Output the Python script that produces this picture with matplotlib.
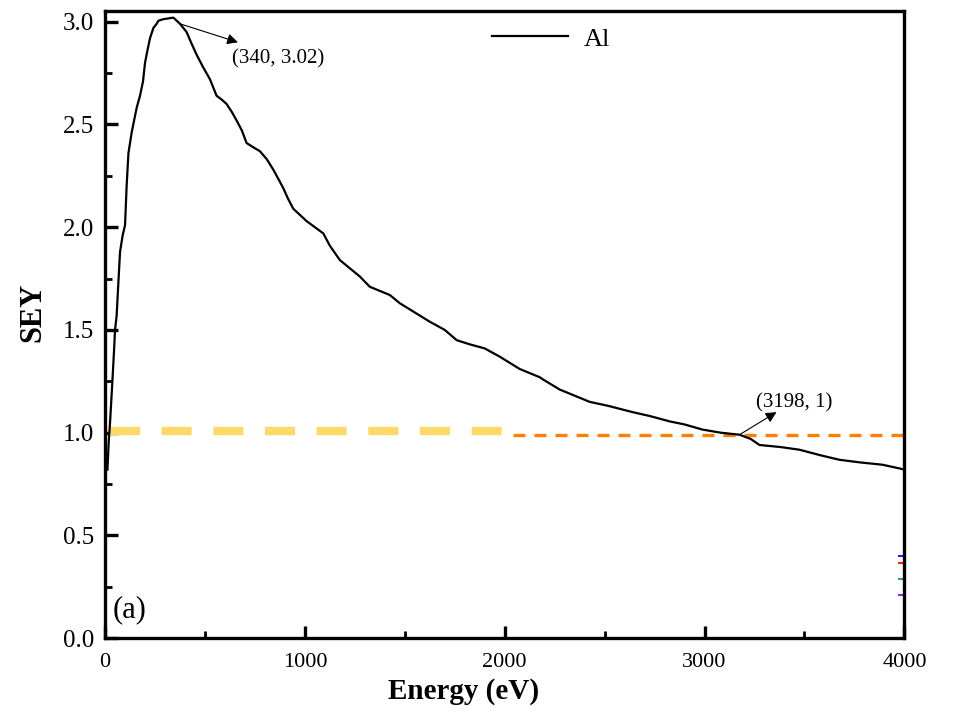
import numpy as np
import matplotlib
matplotlib.use('Agg')
import matplotlib.pyplot as plt
from matplotlib.ticker import MultipleLocator, FormatStrFormatter

# SEY curve of Al
energy = [12, 18, 25, 35, 45, 50, 58, 65, 75, 88, 100, 108, 117, 133, 158, 175, 190, 200,
          212, 225, 242, 258, 267, 290, 308, 342, 375, 408, 430, 458, 490, 525, 558,
          585, 608, 635, 658, 685, 708, 740, 775, 810, 842, 870, 892, 915, 942, 975,
          1008, 1050, 1092, 1125, 1175, 1225, 1275, 1325, 1375, 1425, 1475, 1525, 1575,
          1625, 1700, 1760, 1825, 1900, 1975, 2075, 2175, 2190, 2275, 2350, 2425, 2520,
          2640, 2730, 2825, 2900, 2990, 3080, 3175, 3230, 3275, 3380, 3475, 3580, 3675,
          3780, 3890, 3975, 4000]
sey = [0.82, 0.95, 1.05, 1.22, 1.40, 1.50, 1.57, 1.70, 1.88, 1.96, 2.01, 2.20, 2.36,
       2.46, 2.58, 2.64, 2.71, 2.80, 2.86, 2.92, 2.97, 2.99, 3.005, 3.012, 3.015, 3.02,
       2.99, 2.95, 2.90, 2.84, 2.78, 2.72, 2.64, 2.62, 2.60, 2.56, 2.52, 2.47, 2.41,
       2.39, 2.37, 2.33, 2.28, 2.23, 2.19, 2.14, 2.09, 2.06, 2.03, 2.00, 1.97, 1.91,
       1.84, 1.80, 1.76, 1.71, 1.69, 1.67, 1.63, 1.60, 1.57, 1.54, 1.50, 1.45, 1.43,
       1.41, 1.37, 1.31, 1.27, 1.26, 1.21, 1.18, 1.15, 1.13, 1.10, 1.08, 1.055, 1.04,
       1.015, 1.00, 0.99, 0.97, 0.94, 0.93, 0.917, 0.89, 0.868, 0.855, 0.844, 0.826, 0.82]

yellow_x = [25, 2000]
yellow_y = [1.01, 1.01]
orange_x = [2040, 4000]
orange_y = [0.99, 0.99]

# short coloured stubs left at the right edge of the reference
stub_x = [3975, 4000]
stub_y = [0.40, 0.366, 0.29, 0.21]
stub_c = ['#1f1fff', '#ff2020', '#2a9d8f', '#8a2be2']

peak_tail = (375, 2.99)
peak_head = (665, 2.90)
cross_tail = (3175, 0.99)
cross_head = (3360, 1.10)

plt.rcParams['font.family'] = ['Liberation Serif', 'DejaVu Serif']

fig = plt.figure(figsize=(9.55, 7.17), dpi=100)
ax = fig.add_axes([0.110, 0.110, 0.837, 0.874])

ax.plot(energy, sey, color='black', lw=1.6, label='Al', zorder=3)
ax.plot(yellow_x, yellow_y, color='#FFD966', lw=6, dashes=(3.6, 2.6), zorder=2)
ax.plot(orange_x, orange_y, color='#FF8000', lw=2.4, dashes=(3.6, 2.7), zorder=2)
for yy, cc in zip(stub_y, stub_c):
    ax.plot(stub_x, [yy, yy], color=cc, lw=1.5)

arrow = dict(arrowstyle='-|>', color='black', lw=0.8, mutation_scale=16,
             shrinkA=0, shrinkB=0)
ax.annotate('', xy=peak_head, xytext=peak_tail, arrowprops=arrow)
ax.text(635, 2.82, '(340, 3.02)', fontsize=15, ha='left', va='center')
ax.annotate('', xy=cross_head, xytext=cross_tail, arrowprops=arrow)
ax.text(3450, 1.146, '(3198, 1)', fontsize=15, ha='center', va='center')

ax.text(40, 0.07, '(a)', fontsize=22, ha='left', va='bottom')

ax.set_xlim(0, 4000)
ax.set_ylim(0, 3.05)
ax.xaxis.set_major_locator(MultipleLocator(1000))
ax.xaxis.set_minor_locator(MultipleLocator(500))
ax.yaxis.set_major_locator(MultipleLocator(0.5))
ax.yaxis.set_minor_locator(MultipleLocator(0.25))
ax.yaxis.set_major_formatter(FormatStrFormatter('%.1f'))
ax.tick_params(which='major', direction='in', length=9, width=2.4)
ax.tick_params(axis='x', which='major', labelsize=16, pad=11)
ax.tick_params(axis='y', which='major', labelsize=18, pad=8)
ax.tick_params(which='minor', direction='in', length=5, width=2.0)
for s in ax.spines.values():
    s.set_linewidth(2.4)

ax.set_xlabel('Energy (eV)', fontsize=21, fontweight='bold')
ax.xaxis.set_label_coords(0.449, -0.064)
ax.set_ylabel('SEY', fontsize=22, fontweight='bold')
ax.yaxis.set_label_coords(-0.0725, 0.52)

ax.legend(loc='upper center', bbox_to_anchor=(0.558, 1.013), frameon=False, fontsize=19,
          handlelength=2.85, handletextpad=0.6)

fig.savefig('out.png', dpi=100)
